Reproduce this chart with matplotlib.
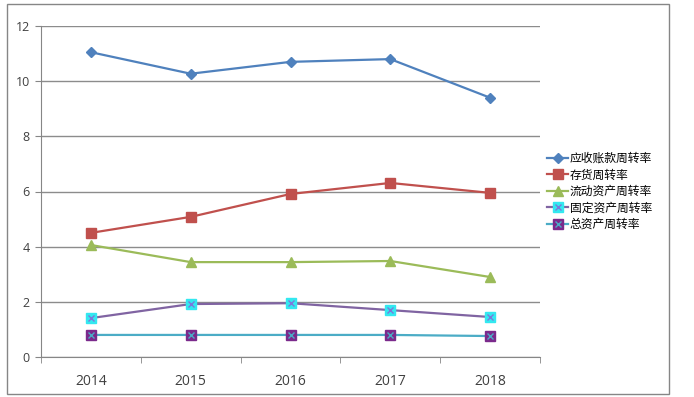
import numpy as np
import matplotlib.pyplot as plt
from matplotlib.patches import Rectangle
from matplotlib.legend_handler import HandlerTuple

plt.rcParams['font.family'] = ['Noto Sans CJK SC', 'DejaVu Sans']

# 数据
years = ['2014', '2015', '2016', '2017', '2018']
ar_turnover = [11.05, 10.27, 10.70, 10.80, 9.40]       # 应收账款周转率
inv_turnover = [4.50, 5.08, 5.91, 6.31, 5.95]          # 存货周转率
ca_turnover = [4.06, 3.44, 3.44, 3.48, 2.90]           # 流动资产周转率
fa_turnover = [1.41, 1.92, 1.95, 1.70, 1.45]           # 固定资产周转率
ta_turnover = [0.80, 0.80, 0.80, 0.80, 0.76]           # 总资产周转率

fig = plt.figure(figsize=(6.94, 3.97), dpi=100)
ax = fig.add_axes([41 / 694, 40 / 397, 499 / 694, 331 / 397])

x = np.arange(len(years))

h1, = ax.plot(x, ar_turnover, color='#4F81BD', lw=1.6, marker='D', ms=5.5,
              mfc='#4F81BD', mec='#4F81BD')
h2, = ax.plot(x, inv_turnover, color='#C0504D', lw=1.6, marker='s', ms=7,
              mfc='#C0504D', mec='#C0504D')
h3, = ax.plot(x, ca_turnover, color='#9BBB59', lw=1.6, marker='^', ms=7,
              mfc='#9BBB59', mec='#9BBB59')
h4, = ax.plot(x, fa_turnover, color='#8064A2', lw=1.6, marker='s', ms=7,
              mfc='#33E8F0', mec='#33E8F0')
h4x, = ax.plot(x, fa_turnover, ls='none', marker='x', ms=5, mew=1,
               color='#7A7ADC')
h5, = ax.plot(x, ta_turnover, color='#4BACC6', lw=1.6, marker='s', ms=7,
              mfc='#7B2A8C', mec='#7B2A8C')
h5x, = ax.plot(x, ta_turnover, ls='none', marker='x', ms=5, mew=1,
               color='#4BACC6')

ax.set_xlim(-0.5, 4.5)
ax.set_ylim(0, 12)
ax.set_yticks(np.arange(0, 13, 2))
ax.set_xticks(x)
ax.set_xticklabels(years)
ax.set_xticks(np.arange(-0.5, 5, 1), minor=True)
ax.tick_params(axis='x', which='major', length=0, pad=12, labelsize=10,
               labelcolor='#404040')
ax.tick_params(axis='x', which='minor', length=4, color='#868686')
ax.tick_params(axis='y', length=4, color='#868686', labelsize=9,
               labelcolor='#404040', pad=4)
for lab in ax.get_xticklabels() + ax.get_yticklabels():
    lab.set_family(['Open Sans', 'DejaVu Sans'])

ax.grid(axis='y', color='#8C8C8C', lw=1)
ax.set_axisbelow(True)
for s in ['top', 'right']:
    ax.spines[s].set_visible(False)
for s in ['left', 'bottom']:
    ax.spines[s].set_color('#868686')

ax.legend([h1, h2, h3, (h4, h4x), (h5, h5x)],
          ['应收账款周转率', '存货周转率', '流动资产周转率', '固定资产周转率', '总资产周转率'],
          handler_map={tuple: HandlerTuple(ndivide=1)},
          loc='center left', bbox_to_anchor=(1.0, 0.5), frameon=False,
          fontsize=8.5, handlelength=1.8, handletextpad=0.1, labelspacing=0.3,
          borderaxespad=0.2)

fig.patches.append(Rectangle((7 / 694, 3 / 397), 662 / 694, 390 / 397,
                             transform=fig.transFigure, fill=False,
                             ec='#868686', lw=1))

fig.savefig('out.png', dpi=100)
